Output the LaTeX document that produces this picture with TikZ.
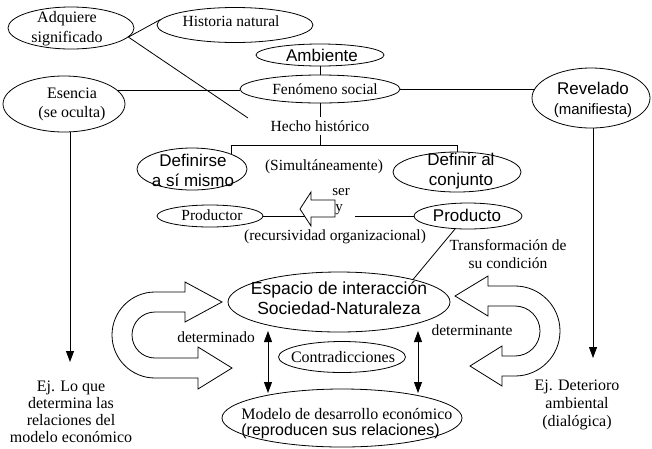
\documentclass[tikz,border=0pt]{standalone}
\usepackage{fontspec}
\setmainfont{Liberation Serif}
\newfontfamily\hsans{Liberation Sans}
\usetikzlibrary{shapes.geometric,arrows.meta}
\begin{document}
\begin{tikzpicture}[x=1pt,y=-1pt,
  line width=0.8pt,
  ell/.style={draw,ellipse,inner sep=0pt},
  esz/.style 2 args={minimum width=#1pt,minimum height=#2pt},
  srf/.style={font=\fontsize{15.5}{19}\selectfont,inner sep=1pt,align=center},
  sns/.style={font=\hsans\fontsize{17}{20}\selectfont,inner sep=1pt,align=center},
  tri/.style={-{Triangle[width=8pt,length=11pt]}},
  dtri/.style={{Triangle[width=8pt,length=11pt]}-{Triangle[width=8pt,length=11pt]}},
  blk/.style={draw,fill=white,line join=miter}
]
\useasboundingbox (0,0) rectangle (652,448);

% top part
\node[ell,esz={126}{42}] (adq) at (71,28) {};
\node[srf,font=\fontsize{16}{20}\selectfont] (tadq) at (67,29) {Adquiere\\significado};
\node[ell,esz={156}{35}] (hist) at (235,25) {};
\node[srf] (thist) at (231,21) {Historia natural};
\node[ell,esz={128}{22}] (amb) at (320,55) {};
\node[sns] (tamb) at (322,55) {Ambiente};
\node[ell,esz={160}{28}] (fen) at (320,89) {};
\node[srf] (tfen) at (325,89) {Fenómeno social};
\node[srf,inner sep=3pt] (hecho) at (320,126) {Hecho histórico};
\node[ell,esz={122}{56}] (esen) at (64,104) {};
\node[srf,font=\fontsize{16}{19}\selectfont] (tesen) at (72,104) {Esencia\\(se oculta)};
\node[ell,esz={118}{60}] (rev) at (591,98) {};
\node[sns] (trev) at (593,100) {Revelado\\{\fontsize{15}{18}\selectfont(manifiesta)}};

\coordinate (hh) at (248,118);
\coordinate (br) at (457,145);
\draw (hist.176) -- (adq.-9) -- (hh);
\draw (esen.14) -- (esen.14 -| fen.west);
\draw (fen.east) -- (fen.east -| rev.171);
\draw (amb.south) -- (fen.north);
\draw (fen.south) -- (hecho.north);
\draw (hecho.south) -- (hecho.south |- br);

% middle
\node[ell,esz={110}{42}] (def1) at (192,169) {};
\node[sns] (tdef1) at (193,170) {Definirse\\a sí mismo};
\node[srf] (simul) at (324,167) {(Simultáneamente)};
\node[ell,esz={128}{40}] (def2) at (457,172) {};
\node[sns] (tdef2) at (461,171) {Definir al\\conjunto};
\draw (def1.21.5) |- (br) -- (def2.north);

\node[ell,esz={106}{22}] (prod1) at (210,216) {};
\node[srf] (tprod1) at (212,215) {Productor};
\coordinate (ahead) at (311,216);
\draw (prod1.east) -- (ahead);
\draw[blk] (300,209) -- (311,192) -- (311,200) -- (335,200) -- (335,217) -- (311,217) -- (311,226) -- cycle;
\node[srf,font=\fontsize{15}{16}\selectfont,inner sep=0pt] (tser) at (341,192) {ser};
\node[srf,font=\fontsize{15}{16}\selectfont,inner sep=0pt] (ty) at (339,210) {y};
\node[ell,esz={108}{26}] (prod2) at (468,216) {};
\node[sns] (tprod2) at (467,215) {Producto};
\coordinate (yend) at (355,216);
\draw (yend) -- (prod2.west);
\node[srf] (recur) at (335,237) {(recursividad organizacional)};
\node[srf,font=\fontsize{15.5}{18}\selectfont] (transf) at (508,254) {Transformación de\\su condición};

% lower
\node[ell,esz={222}{60}] (esp) at (339,302) {};
\node[sns,font=\hsans\fontsize{17.5}{20}\selectfont] (tesp) at (339,298) {Espacio de interacción\\Sociedad-Naturaleza};
\draw (prod2.225) -- (esp.17);
\node[ell,esz={127}{31}] (contr) at (342,357) {};
\node[srf,font=\fontsize{16}{19}\selectfont] (tcontr) at (343,357) {Contradicciones};
\node[ell,esz={240}{58}] (modelo) at (342,418) {};
\node[anchor=west,align=left,inner sep=0pt,font=\fontsize{16}{16}\selectfont] (tmodelo) at (241,424) {Modelo de desarrollo económico\\{\hsans(reproducen sus relaciones)}};

% U arrows
\draw[blk] (222,302) -- (185,282) -- (185,292) -- (155,292)
  .. controls (131.25,292) and (112,311.25) .. (112,335)
  .. controls (112,358.75) and (131.25,378) .. (155,378)
  -- (198,378) -- (198,389) -- (232,368) -- (198,347) -- (198,358) -- (155,358)
  .. controls (142.3,358) and (132,347.7) .. (132,335)
  .. controls (132,322.3) and (142.3,312) .. (155,312)
  -- (185,312) -- (185,322) -- cycle;
\draw[blk] (455,296) -- (488,276) -- (488,286) -- (515,286)
  .. controls (539.85,286) and (560,306.15) .. (560,331)
  .. controls (560,355.85) and (539.85,376) .. (515,376)
  -- (502,376) -- (502,386) -- (470,366) -- (502,346) -- (502,356) -- (515,356)
  .. controls (528.8,356) and (540,344.8) .. (540,331)
  .. controls (540,317.2) and (528.8,306) .. (515,306)
  -- (488,306) -- (488,316) -- cycle;

\node[srf] (tdetdo) at (216,337) {determinado};
\node[srf] (tdette) at (472,330) {determinante};
\coordinate (d1a) at (268,331);
\coordinate (d1b) at (268,393);
\coordinate (d2a) at (418,331);
\coordinate (d2b) at (418,393);
\draw[dtri] (d1a) -- (d1b);
\draw[dtri] (d2a) -- (d2b);

% side arrows
\coordinate (al) at (70,362);
\coordinate (ar) at (593,358);
\draw[tri] (al |- esen.south) -- (al);
\draw[tri] (ar |- rev.south) -- (ar);
\node[srf,font=\fontsize{16}{17}\selectfont] (ejl) at (71,412) {Ej. Lo que\\determina las\\relaciones del\\modelo económico};
\node[srf,font=\fontsize{16}{18}\selectfont] (ejr) at (577,405) {Ej. Deterioro\\ambiental\\(dialógica)};
\end{tikzpicture}
\end{document}
